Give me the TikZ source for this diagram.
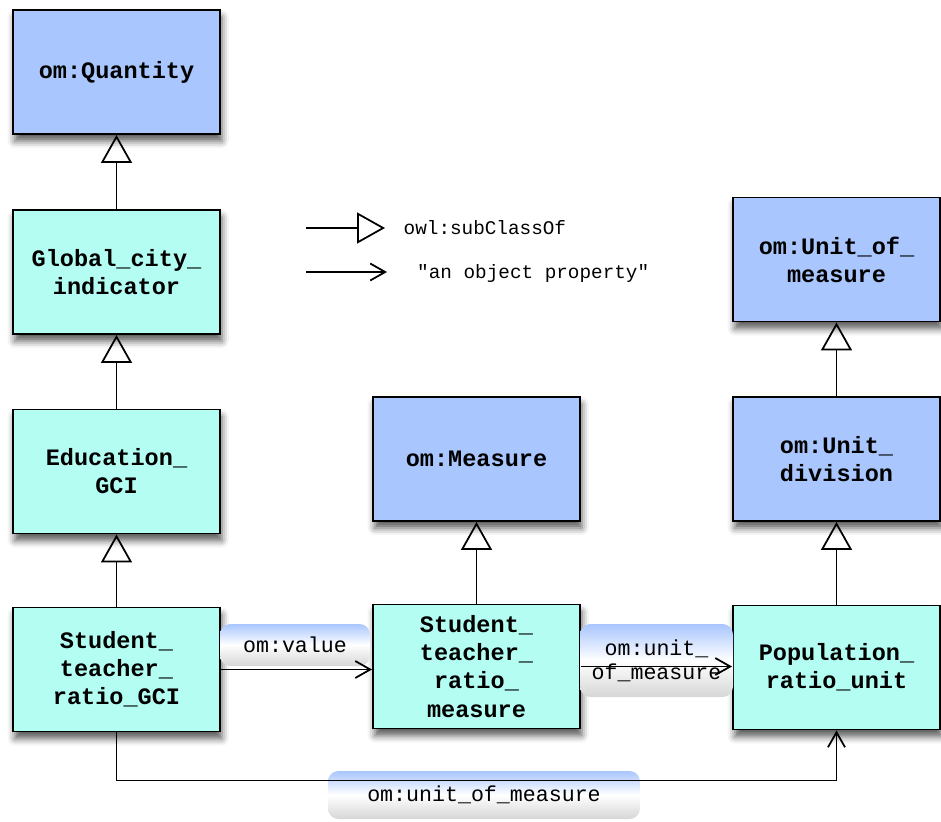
\documentclass[tikz,border=0pt]{standalone}
\usepackage{fontspec}
\setmonofont{Liberation Mono}
\usepackage{tikz}
\usetikzlibrary{arrows.meta,positioning,calc}
\usetikzlibrary{shadows.blur}

\definecolor{omblue}{HTML}{A9C6FE}
\definecolor{gcicyan}{HTML}{B3FDF3}
\definecolor{labgray}{HTML}{D6D6D6}

\tikzset{
  cls/.style={draw,line width=1.1pt,minimum width=4.14cm,minimum height=2.48cm,align=center,
    font=\ttfamily\bfseries\fontsize{13.4}{16}\selectfont,
    blur shadow={shadow xshift=1pt,shadow yshift=-4pt,shadow blur radius=4pt,shadow opacity=65}},
  omcls/.style={cls,fill=omblue},
  gcicls/.style={cls,fill=gcicyan},
  subcls/.style={-{Triangle[open,width=0.62cm,length=0.56cm]},line width=1pt},
  objprop/.style={-{Straight Barb[length=0.3cm,width=0.34cm]},line width=1pt},
  proplabel/.style={rounded corners=6pt,top color=omblue,bottom color=labgray,middle color=white,
    inner sep=0pt,align=center,font=\ttfamily\fontsize{12.3}{13.5}\selectfont},
  legtext/.style={anchor=west,font=\ttfamily\fontsize{11}{13}\selectfont}
}

\begin{document}
\begin{tikzpicture}
	\useasboundingbox (0,0) rectangle (18.82,-16.42);
	% classes
	\node[omcls] (qty) at (2.33,-1.44) {om:Quantity};
	\node[gcicls] (gci) at (2.33,-5.44) {Global\_city\_\\indicator};
	\node[gcicls] (edu) at (2.33,-9.43) {Education\_\\GCI};
	\node[gcicls] (stgci) at (2.33,-13.39) {Student\_\\teacher\_\\ratio\_GCI};
	\node[omcls] (meas) at (9.53,-9.18) {om:Measure};
	\node[gcicls] (stmeas) at (9.53,-13.33) {Student\_\\teacher\_\\ratio\_\\measure};
	\node[omcls] (uom) at (16.73,-5.19) {om:Unit\_of\_\\measure};
	\node[omcls] (udiv) at (16.73,-9.18) {om:Unit\_\\division};
	\node[gcicls] (popunit) at (16.73,-13.35) {Population\_\\ratio\_unit};
	% subclass links
	\draw[subcls] (gci) -- (qty);
	\draw[subcls] (edu) -- (gci);
	\draw[subcls] (stgci) -- (edu);
	\draw[subcls] (stmeas) -- (meas);
	\draw[subcls] (udiv) -- (uom);
	\draw[subcls] (popunit) -- (udiv);
	% property labels
	\node[proplabel,minimum width=3.0cm,minimum height=0.84cm] (vallab) at (5.9,-12.9) {om:value};
	\node[proplabel,minimum width=3.06cm,minimum height=1.46cm] (uomlab) at (13.13,-13.21) {om:unit\_\\of\_measure};
	\node[proplabel,minimum width=6.24cm,minimum height=0.96cm] (uomlab2) at (9.68,-15.9) {om:unit\_of\_measure};
	% object properties
	\draw[objprop] (stgci.east) -- (stgci.east -| stmeas.west);
	\draw[objprop] (stmeas.east) -- (stmeas.east -| popunit.west);
	\draw[objprop] (stgci.south) -- ++(0,-0.96) -| (popunit.south);
	% legend
	\coordinate (sub a) at (6.12,-4.56);
	\coordinate (sub b) at (7.7,-4.56);
	\draw[subcls] (sub a) -- (sub b);
	\node[legtext] (subtxt) at (7.95,-4.56) {owl:subClassOf};
	\coordinate (obj a) at (6.12,-5.44);
	\coordinate (obj b) at (7.74,-5.44);
	\draw[objprop] (obj a) -- (obj b);
	\node[legtext] (objtxt) at (8.22,-5.46) {"an object property"};
\end{tikzpicture}
\end{document}
